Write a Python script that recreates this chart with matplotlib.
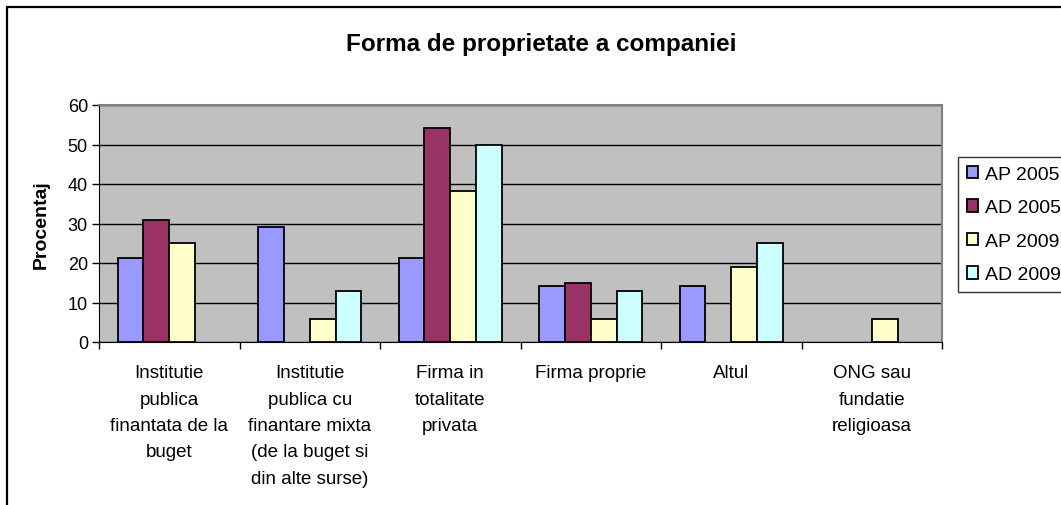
import numpy as np
import matplotlib
matplotlib.use("Agg")
import matplotlib.pyplot as plt
from matplotlib.patches import Rectangle

plt.rcParams['font.family'] = ['Liberation Sans', 'DejaVu Sans']

# date (nan = fara bara)
nan = np.nan
categorii = ["Institutie\npublica\nfinantata de la\nbuget",
             "Institutie\npublica cu\nfinantare mixta\n(de la buget si\ndin alte surse)",
             "Firma in\ntotalitate\nprivata",
             "Firma proprie",
             "Altul",
             "ONG sau\nfundatie\nreligioasa"]
serii = ["AP 2005", "AD 2005", "AP 2009", "AD 2009"]
ap_2005 = [21.2, 29.1, 21.2, 14.1, 14.1, nan]
ad_2005 = [31.0, nan, 54.3, 14.9, nan, nan]
ap_2009 = [25.1, 5.8, 38.2, 5.8, 18.9, 5.8]
ad_2009 = [nan, 13.0, 50.0, 13.0, 25.1, nan]
culori = ["#9999FF", "#993366", "#FFFFCC", "#CCFFFF"]
y_ticks = [0, 10, 20, 30, 40, 50, 60]

fig = plt.figure(figsize=(10.61, 5.06), dpi=100)
ax = fig.add_axes([99/1061, 1-343/506, (942-99)/1061, (343-106)/506])
ax.set_facecolor("#C0C0C0")

n = len(categorii)
latime = 0.184
x = np.arange(n) + 0.5
valori = [ap_2005, ad_2005, ap_2009, ad_2009]
handles = []
for i, (v, c, s) in enumerate(zip(valori, culori, serii)):
    b = ax.bar(x + (i - 1.5) * latime, v, latime, color=c, edgecolor="black",
               linewidth=1.3, label=s, zorder=3)
    handles.append(b)

ax.set_xlim(0, n)
ax.set_ylim(0, 60)
ax.set_yticks(y_ticks)
ax.tick_params(axis='y', direction='out', length=5, width=1, labelsize=13, pad=3)
ax.yaxis.grid(True, color="black", linewidth=1, zorder=1)
ax.set_axisbelow(True)

# etichete pe centru, tick-uri la margini
ax.set_xticks(np.arange(n + 1))
ax.set_xticklabels([])
ax.tick_params(axis='x', which='major', direction='out', length=5, width=1)
ax.set_xticks(x, minor=True)
ax.set_xticklabels(categorii, minor=True, fontsize=13.5, linespacing=1.72, va='top')
ax.tick_params(axis='x', which='minor', length=0, pad=16)

for sp in ['top', 'right']:
    ax.spines[sp].set_color("#808080")
    ax.spines[sp].set_linewidth(1.5)
ax.spines['left'].set_color("black")
ax.spines['bottom'].set_color("black")

ax.set_ylabel("Procentaj", fontsize=14, fontweight='bold', labelpad=13)
fig.text(541/1061, 1-45/506, "Forma de proprietate a companiei", fontsize=17.5,
         fontweight='bold', ha='center', va='center')

leg = fig.legend(handles=handles, loc='upper left', bbox_to_anchor=(958/1061, 1-158/506),
                 fontsize=14, frameon=True, fancybox=False, edgecolor="black",
                 handlelength=0.6, handleheight=0.6, handletextpad=0.35,
                 labelspacing=0.85, borderpad=0.45, borderaxespad=0)
leg.get_frame().set_linewidth(1)

# chenarul exterior al graficului
fig.patches.append(Rectangle((7/1061, -0.2), 1.2, (506-8)/506 + 0.2,
                             transform=fig.transFigure, fill=False,
                             edgecolor="black", linewidth=1.6))

fig.savefig("out.png", dpi=100)
